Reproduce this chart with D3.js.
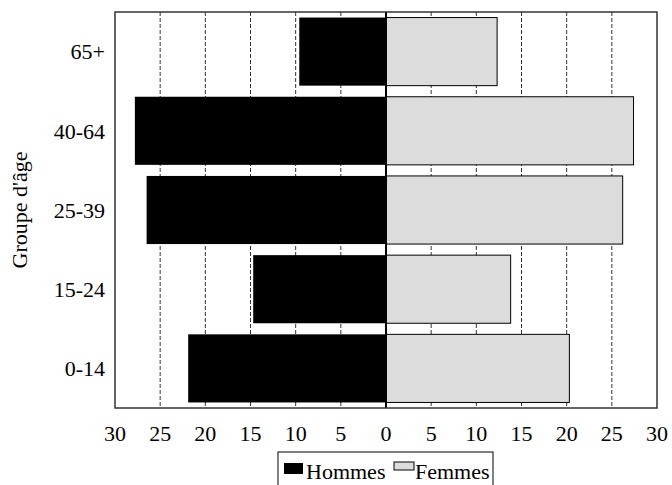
<!DOCTYPE html>
<html>
<head>
<meta charset="utf-8">
<script src="https://cdn.jsdelivr.net/npm/d3@7"></script>
<style>
  body { margin: 0; background: #fff; }
  text { font-family: "Liberation Serif", "DejaVu Serif", serif; }
</style>
</head>
<body>
<svg id="chart" width="672" height="485"></svg>
<script>
// age groups, top to bottom in the picture
var groups = ['65+', '40-64', '25-39', '15-24', '0-14']
var hommes = [9.6, 27.8, 26.5, 14.7, 21.9]
var femmes = [12.3, 27.4, 26.2, 13.8, 20.3]
var ticks = [-30, -25, -20, -15, -10, -5, 0, 5, 10, 15, 20, 25, 30]
var seriesNames = ['Hommes', 'Femmes']

var svg = d3.select('#chart')
var pLeft = 115, pRight = 657, pTop = 12, pBottom = 408
var fs = 22

var x = d3.scaleLinear().domain([-30, 30]).range([pLeft, pRight])
var y = d3.scaleBand().domain(groups).range([pTop, pBottom]).paddingInner(0.14).paddingOuter(0.07)

// grid
svg.append('g').selectAll('line')
    .data(ticks.filter(d => d != 0 && Math.abs(d) != 30))
    .enter().append('line')
    .attr('x1', d => x(d)).attr('x2', d => x(d))
    .attr('y1', pTop).attr('y2', pBottom)
    .attr('stroke', '#333')
    .attr('stroke-width', 1)
    .attr('stroke-dasharray', '4,2')

// bars
var rows = groups.map((g, i) => ({g: g, h: hommes[i], f: femmes[i]}))

svg.append('g').selectAll('rect')
    .data(rows)
    .enter().append('rect')
    .attr('x', d => x(-d.h))
    .attr('y', d => y(d.g))
    .attr('width', d => x(0) - x(-d.h))
    .attr('height', y.bandwidth())
    .attr('fill', '#000')

svg.append('g').selectAll('rect')
    .data(rows)
    .enter().append('rect')
    .attr('x', x(0))
    .attr('y', d => y(d.g))
    .attr('width', d => x(d.f) - x(0))
    .attr('height', y.bandwidth())
    .attr('fill', '#dcdcdc')
    .attr('stroke', '#000')
    .attr('stroke-width', 1)

// zero line
svg.append('line')
    .attr('x1', x(0)).attr('x2', x(0))
    .attr('y1', pTop).attr('y2', pBottom)
    .attr('stroke', '#000').attr('stroke-width', 2)

// frame
svg.append('rect')
    .attr('x', pLeft).attr('y', pTop)
    .attr('width', pRight - pLeft).attr('height', pBottom - pTop)
    .attr('fill', 'none').attr('stroke', '#333').attr('stroke-width', 1.5)

// x labels
svg.append('g').selectAll('text')
    .data(ticks)
    .enter().append('text')
    .attr('x', d => x(d))
    .attr('y', 441)
    .attr('text-anchor', 'middle')
    .attr('font-size', fs)
    .text(d => Math.abs(d))

// y labels
svg.append('g').selectAll('text')
    .data(groups)
    .enter().append('text')
    .attr('x', 105)
    .attr('y', d => y(d) + y.bandwidth() / 2)
    .attr('dy', '0.35em')
    .attr('text-anchor', 'end')
    .attr('font-size', fs)
    .text(d => d)

svg.append('text')
    .attr('transform', 'translate(27,' + ((pTop + pBottom) / 2) + ')rotate(-90)')
    .attr('text-anchor', 'middle')
    .attr('font-size', fs)
    .text("Groupe d'âge")

// legend
var lg = svg.append('g')
lg.append('rect')
    .attr('x', 278).attr('y', 452).attr('width', 215).attr('height', 40)
    .attr('fill', '#fff').attr('stroke', '#000').attr('stroke-width', 1)
lg.append('rect').attr('x', 284).attr('y', 463).attr('width', 19).attr('height', 11).attr('fill', '#000')
lg.append('text').attr('x', 306).attr('y', 479).attr('font-size', fs).text(seriesNames[0])
lg.append('rect').attr('x', 394).attr('y', 462).attr('width', 20).attr('height', 8)
    .attr('fill', '#dcdcdc').attr('stroke', '#000').attr('stroke-width', 1)
lg.append('text').attr('x', 415).attr('y', 479).attr('font-size', fs).text(seriesNames[1])
</script>
</body>
</html>
